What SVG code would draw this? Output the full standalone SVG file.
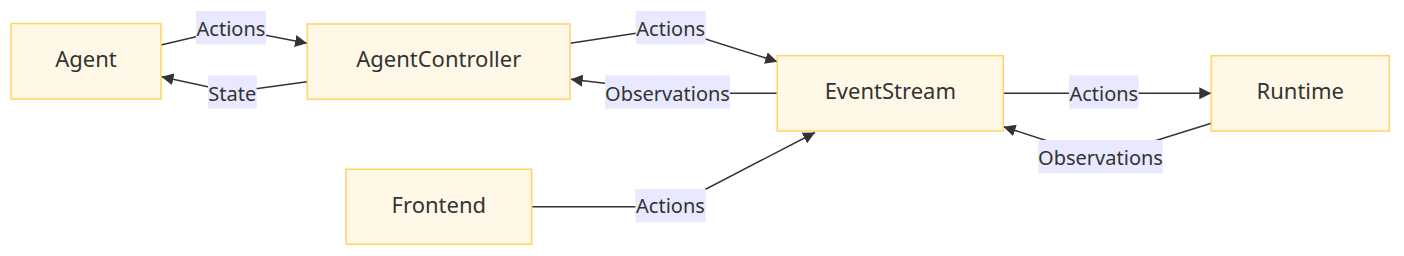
<svg xmlns="http://www.w3.org/2000/svg" width="1404" height="256" viewBox="0 0 1404 256">
<style>
.node rect{fill:#FFF8E6;stroke:#FFD466;stroke-width:1.5}
.node text{font-family:"Noto Sans","Open Sans",sans-serif;font-size:22px;fill:#333;text-anchor:middle}
.edge{fill:none;stroke:#333;stroke-width:1.5}
.lbl rect{fill:#E8E8FF}
.lbl text{font-family:"Noto Sans","Open Sans",sans-serif;font-size:20px;fill:#333;text-anchor:middle}
</style>
<defs>
<marker id="arr" viewBox="0 0 10 10" refX="10" refY="5" markerWidth="12" markerHeight="12" markerUnits="userSpaceOnUse" orient="auto">
<path d="M0,0 L10,5 L0,10 z" fill="#333"/>
</marker>
</defs>
<rect width="1404" height="256" fill="#fff"/>
<g id="connectors">
<polyline class="edge" points="161,45 231,28.5 307,43.3" marker-end="url(#arr)"/>
<polyline class="edge" points="307,81.7 232,92 161.5,76.7" marker-end="url(#arr)"/>
<polyline class="edge" points="570,43.3 670.7,28 777.3,61.7" marker-end="url(#arr)"/>
<polyline class="edge" points="777.3,93.3 690,93.3 570.7,79.3" marker-end="url(#arr)"/>
<polyline class="edge" points="1003.3,93.3 1211.3,93.3" marker-end="url(#arr)"/>
<polyline class="edge" points="1211.3,123.3 1100,158 1003.5,126.7" marker-end="url(#arr)"/>
<polyline class="edge" points="531.7,206.7 672,206.7 815,132.5" marker-end="url(#arr)"/>
<g class="lbl">
<rect x="196" y="11" width="70" height="33.3"/><text x="231" y="36">Actions</text>
<rect x="208" y="75.3" width="48.7" height="33.3"/><text x="232.3" y="100.5">State</text>
<rect x="635.7" y="11" width="70" height="33.3"/><text x="670.7" y="36">Actions</text>
<rect x="605" y="75.3" width="125" height="33.3"/><text x="667.5" y="100.5">Observations</text>
<rect x="1069" y="75.3" width="69.7" height="33.3"/><text x="1103.8" y="100.5">Actions</text>
<rect x="1038.3" y="140" width="124.4" height="33.3"/><text x="1100.5" y="165">Observations</text>
<rect x="635.3" y="189" width="70.4" height="33.3"/><text x="670.5" y="213.3">Actions</text>
</g>
</g>
<g id="Agent" class="node"><rect x="11" y="23.5" width="150" height="75.5"/><text x="86" y="66.7">Agent</text></g>
<g id="AgentController" class="node"><rect x="307.3" y="24" width="262.7" height="75.3"/><text x="438.7" y="66.7">AgentController</text></g>
<g id="EventStream" class="node"><rect x="777.3" y="55.7" width="226" height="75.3"/><text x="890.3" y="99.3">EventStream</text></g>
<g id="Runtime" class="node"><rect x="1211.3" y="55.7" width="178" height="75.3"/><text x="1300.3" y="99.3">Runtime</text></g>
<g id="Frontend" class="node"><rect x="346" y="169.3" width="185.7" height="75"/><text x="438.8" y="212.7">Frontend</text></g>
</svg>
